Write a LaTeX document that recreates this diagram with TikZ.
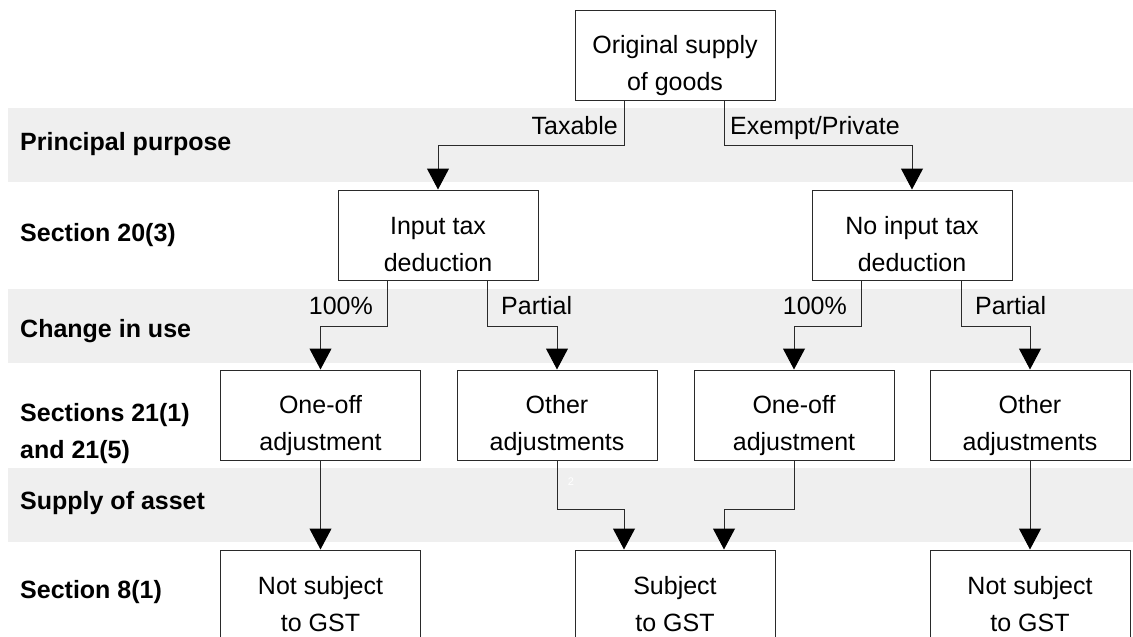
\documentclass[tikz,border=0pt]{standalone}
\usepackage{fontspec}
\setmainfont{Liberation Sans}
\usetikzlibrary{arrows.meta,calc}
\definecolor{band}{HTML}{EFEFEF}
\definecolor{edge}{HTML}{2A2A2A}
\newcommand\twol[2]{\rule{0pt}{40pt}#1\\#2\rule[-5pt]{0pt}{5pt}}
\begin{document}
\begin{tikzpicture}[x=1pt,y=-1pt,
  box/.style={draw=edge, line width=1pt, fill=white, minimum width=200pt,
    minimum height=90pt, inner sep=0pt, align=center,
    font=\fontsize{25}{37}\selectfont},
  rowlabel/.style={inner sep=0pt, align=left,
    font=\fontsize{25}{37}\selectfont\bfseries},
  elabel/.style={inner sep=0pt, font=\fontsize{25}{29}\selectfont},
  conn/.style={draw=edge, line width=1pt},
  arr/.style={conn, -{Triangle[width=22pt,length=21pt,color=black]}},
  bandfill/.style={fill=band, draw=none}]
\clip (0,0) rectangle (1133,637);
\fill[white] (0,0) rectangle (1133,637);
% bands
\fill[bandfill] (8,108) rectangle (1133,182);
\fill[bandfill] (8,289) rectangle (1133,363);
\fill[bandfill] (8,468) rectangle (1133,542);
% row labels
\node[rowlabel, anchor=base west] (r1) at (20,150) {Principal purpose};
\node[rowlabel, anchor=base west] (r2) at (20,241) {Section 20(3)};
\node[rowlabel, anchor=base west] (r3) at (20,337) {Change in use};
\node[rowlabel, anchor=west] (r4) at (20,423) {\twol{Sections 21(1)}{and 21(5)}};
\node[rowlabel, anchor=base west] (r5) at (20,509) {Supply of asset};
\node[rowlabel, anchor=base west] (r6) at (20,598) {Section 8(1)};
% boxes
\node[box] (orig) at (675,55) {\twol{Original supply}{of goods}};
\node[box] (itd) at (438,235) {\twol{Input tax}{deduction}};
\node[box] (nitd) at (912,235) {\twol{No input tax}{deduction}};
\node[box] (oo1) at (320.5,415) {\twol{One-off}{adjustment}};
\node[box] (oa1) at (557,415) {\twol{Other}{adjustments}};
\node[box] (oo2) at (794,415) {\twol{One-off}{adjustment}};
\node[box] (oa2) at (1030,415) {\twol{Other}{adjustments}};
\node[box] (ns1) at (320.5,595) {\twol{Not subject}{to GST}};
\node[box] (sub) at (675,595) {\twol{Subject}{to GST}};
\node[box] (ns2) at (1030,595) {\twol{Not subject}{to GST}};
% connectors
\draw[arr] ($(orig.south)+(-51,0)$) -- ++(0,45) -| (itd.north);
\draw[arr] ($(orig.south)+(49,0)$) -- ++(0,45) -| (nitd.north);
\draw[arr] ($(itd.south)+(-51,0)$) -- ++(0,46) -| (oo1.north);
\draw[arr] ($(itd.south)+(49,0)$) -- ++(0,46) -| (oa1.north);
\draw[arr] ($(nitd.south)+(-51,0)$) -- ++(0,46) -| (oo2.north);
\draw[arr] ($(nitd.south)+(49,0)$) -- ++(0,46) -| (oa2.north);
\draw[arr] (oo1.south) -- (ns1.north);
\draw[arr] (oa1.south) -- ++(0,49) -| ($(sub.north)+(-51,0)$);
\draw[arr] (oo2.south) -- ++(0,49) -| ($(sub.north)+(49,0)$);
\draw[arr] (oa2.south) -- (ns2.north);
% edge labels
\node[elabel, anchor=base east] (lt) at (618,134) {Taxable};
\node[elabel, anchor=base west] (le) at (730,134) {Exempt/Private};
\node[elabel, anchor=base east] (l1) at (373,314) {100\%};
\node[elabel, anchor=base west] (l2) at (501,314) {Partial};
\node[elabel, anchor=base east] (l3) at (847,314) {100\%};
\node[elabel, anchor=base west] (l4) at (975,314) {Partial};
\node[inner sep=0pt, text=white, font=\fontsize{11}{13}\selectfont] (two) at (571,482) {2};
\end{tikzpicture}
\end{document}
